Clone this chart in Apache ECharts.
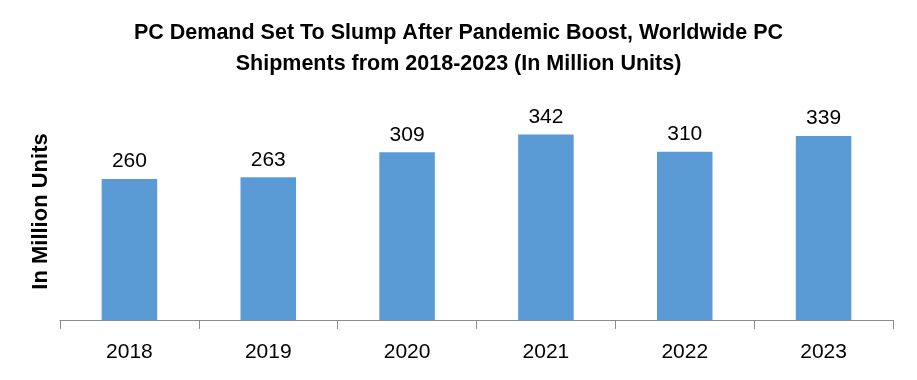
<!DOCTYPE html>
<html><head><meta charset="utf-8">
<script src="https://cdn.jsdelivr.net/npm/echarts@6/dist/echarts.min.js"></script>
<style>html,body{margin:0;padding:0;background:#fff}#c{width:917px;height:380px}</style>
</head><body><div id="c"></div>
<script>
const categories = ['2018','2019','2020','2021','2022','2023'];
const shipments = [260, 263, 309, 342, 310, 339];
const titleText = 'PC Demand Set To Slump After Pandemic Boost, Worldwide PC\nShipments from 2018-2023 (In Million Units)';
const yName = 'In Million Units';

const chart = echarts.init(document.getElementById('c'));
chart.setOption({
  animation: false,
  title: {
    text: titleText,
    left: 'center', top: 13,
    textStyle: {fontFamily: 'Liberation Sans', fontWeight: 'bold', fontSize: 21.5, lineHeight: 31, color: '#000'}
  },
  grid: {left: 60, right: 24, top: 103, bottom: 60},
  xAxis: {
    type: 'category', data: categories,
    axisLine: {lineStyle: {color: '#8c8c8c', width: 1}},
    axisTick: {show: true, length: 9, lineStyle: {color: '#8c8c8c'}},
    axisLabel: {fontFamily: 'Liberation Sans', fontSize: 21, color: '#000', margin: 22}
  },
  yAxis: {
    type: 'value', min: 0, max: 400,
    name: yName, nameLocation: 'middle', nameGap: 8,
    nameTextStyle: {fontFamily: 'Liberation Sans', fontWeight: 'bold', fontSize: 22, color: '#000'},
    axisLine: {show: false}, axisTick: {show: false}, axisLabel: {show: false},
    splitLine: {show: false}
  },
  series: [{
    type: 'bar', data: shipments, barWidth: '40%',
    itemStyle: {color: '#5b9bd5'},
    label: {show: true, position: 'top', distance: 7, fontFamily: 'Liberation Sans', fontSize: 21, color: '#000'}
  }]
});
</script></body></html>
